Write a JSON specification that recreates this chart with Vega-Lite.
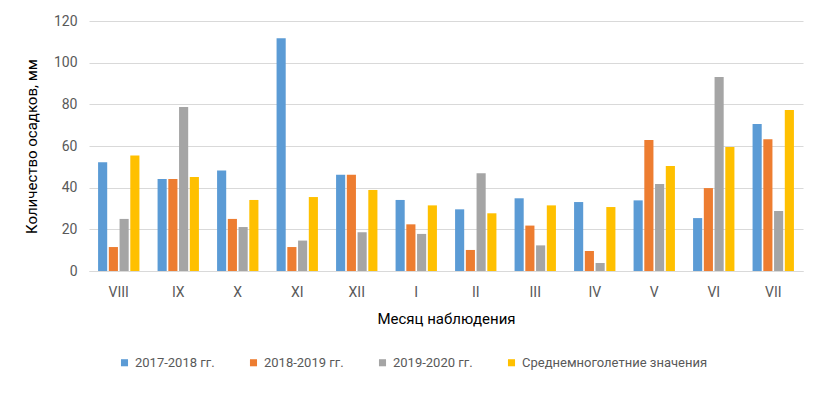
{
  "$schema": "https://vega.github.io/schema/vega-lite/v6.json",
  "width": 714,
  "height": 250,
  "autosize": {"type": "none"},
  "padding": {"left": 89, "top": 21, "right": 21, "bottom": 133},
  "background": "white",
  "config": {
    "view": {"stroke": null},
    "font": "Roboto, sans-serif"
  },
  "data": {
    "values": [
      {"month": "VIII", "series": "2017-2018 гг.", "value": 52.2},
      {"month": "VIII", "series": "2018-2019 гг.", "value": 11.5},
      {"month": "VIII", "series": "2019-2020 гг.", "value": 25.0},
      {"month": "VIII", "series": "Среднемноголетние значения", "value": 55.5},
      {"month": "IX", "series": "2017-2018 гг.", "value": 44.2},
      {"month": "IX", "series": "2018-2019 гг.", "value": 44.2},
      {"month": "IX", "series": "2019-2020 гг.", "value": 78.7},
      {"month": "IX", "series": "Среднемноголетние значения", "value": 45.1},
      {"month": "X", "series": "2017-2018 гг.", "value": 48.3},
      {"month": "X", "series": "2018-2019 гг.", "value": 25.0},
      {"month": "X", "series": "2019-2020 гг.", "value": 21.1},
      {"month": "X", "series": "Среднемноголетние значения", "value": 34.1},
      {"month": "XI", "series": "2017-2018 гг.", "value": 111.7},
      {"month": "XI", "series": "2018-2019 гг.", "value": 11.5},
      {"month": "XI", "series": "2019-2020 гг.", "value": 14.6},
      {"month": "XI", "series": "Среднемноголетние значения", "value": 35.5},
      {"month": "XII", "series": "2017-2018 гг.", "value": 46.2},
      {"month": "XII", "series": "2018-2019 гг.", "value": 46.2},
      {"month": "XII", "series": "2019-2020 гг.", "value": 18.6},
      {"month": "XII", "series": "Среднемноголетние значения", "value": 38.9},
      {"month": "I", "series": "2017-2018 гг.", "value": 34.1},
      {"month": "I", "series": "2018-2019 гг.", "value": 22.4},
      {"month": "I", "series": "2019-2020 гг.", "value": 17.8},
      {"month": "I", "series": "Среднемноголетние значения", "value": 31.5},
      {"month": "II", "series": "2017-2018 гг.", "value": 29.6},
      {"month": "II", "series": "2018-2019 гг.", "value": 10.1},
      {"month": "II", "series": "2019-2020 гг.", "value": 46.9},
      {"month": "II", "series": "Среднемноголетние значения", "value": 27.7},
      {"month": "III", "series": "2017-2018 гг.", "value": 34.9},
      {"month": "III", "series": "2018-2019 гг.", "value": 21.8},
      {"month": "III", "series": "2019-2020 гг.", "value": 12.3},
      {"month": "III", "series": "Среднемноголетние значения", "value": 31.5},
      {"month": "IV", "series": "2017-2018 гг.", "value": 33.1},
      {"month": "IV", "series": "2018-2019 гг.", "value": 9.6},
      {"month": "IV", "series": "2019-2020 гг.", "value": 3.8},
      {"month": "IV", "series": "Среднемноголетние значения", "value": 30.7},
      {"month": "V", "series": "2017-2018 гг.", "value": 33.9},
      {"month": "V", "series": "2018-2019 гг.", "value": 62.9},
      {"month": "V", "series": "2019-2020 гг.", "value": 41.8},
      {"month": "V", "series": "Среднемноголетние значения", "value": 50.4},
      {"month": "VI", "series": "2017-2018 гг.", "value": 25.4},
      {"month": "VI", "series": "2018-2019 гг.", "value": 39.8},
      {"month": "VI", "series": "2019-2020 гг.", "value": 93.1},
      {"month": "VI", "series": "Среднемноголетние значения", "value": 59.5},
      {"month": "VII", "series": "2017-2018 гг.", "value": 70.6},
      {"month": "VII", "series": "2018-2019 гг.", "value": 63.2},
      {"month": "VII", "series": "2019-2020 гг.", "value": 28.8},
      {"month": "VII", "series": "Среднемноголетние значения", "value": 77.3}
    ]
  },
  "mark": {"type": "bar"},
  "encoding": {
    "x": {
      "field": "month",
      "type": "nominal",
      "sort": ["VIII", "IX", "X", "XI", "XII", "I", "II", "III", "IV", "V", "VI", "VII"],
      "scale": {"paddingInner": 0.305, "paddingOuter": 0.1525},
      "axis": {
        "title": "Месяц наблюдения",
        "titleFontSize": 15,
        "titleFontWeight": "normal",
        "titleColor": "#000000",
        "titlePadding": 12,
        "labelAngle": 0,
        "labelFontSize": 14,
        "labelColor": "#595959",
        "labelPadding": 14,
        "ticks": false,
        "domainColor": "#d9d9d9"
      }
    },
    "xOffset": {
      "field": "series",
      "type": "nominal",
      "scale": {"paddingInner": 0.15, "paddingOuter": 0}
    },
    "y": {
      "field": "value",
      "type": "quantitative",
      "scale": {"domain": [0, 120], "nice": false},
      "axis": {
        "title": "Количество осадков, мм",
        "titleFontSize": 15,
        "titleFontWeight": "normal",
        "titleColor": "#000000",
        "titlePadding": 14,
        "values": [0, 20, 40, 60, 80, 100, 120],
        "labelFontSize": 14,
        "labelColor": "#595959",
        "labelPadding": 12,
        "ticks": false,
        "domain": false,
        "gridColor": "#d9d9d9",
        "gridWidth": 1
      }
    },
    "color": {
      "field": "series",
      "type": "nominal",
      "scale": {
        "domain": ["2017-2018 гг.", "2018-2019 гг.", "2019-2020 гг.", "Среднемноголетние значения"],
        "range": ["#5b9bd5", "#ed7d31", "#a5a5a5", "#ffc000"]
      },
      "legend": {
        "title": null,
        "orient": "none",
        "legendX": 29,
        "legendY": 335,
        "direction": "horizontal",
        "columns": 4,
        "columnPadding": 32,
        "symbolType": "square",
        "symbolSize": 50,
        "symbolStrokeWidth": 0,
        "labelFontSize": 13,
        "labelColor": "#595959",
        "labelOffset": 4,
        "labelLimit": 400
      }
    }
  }
}
